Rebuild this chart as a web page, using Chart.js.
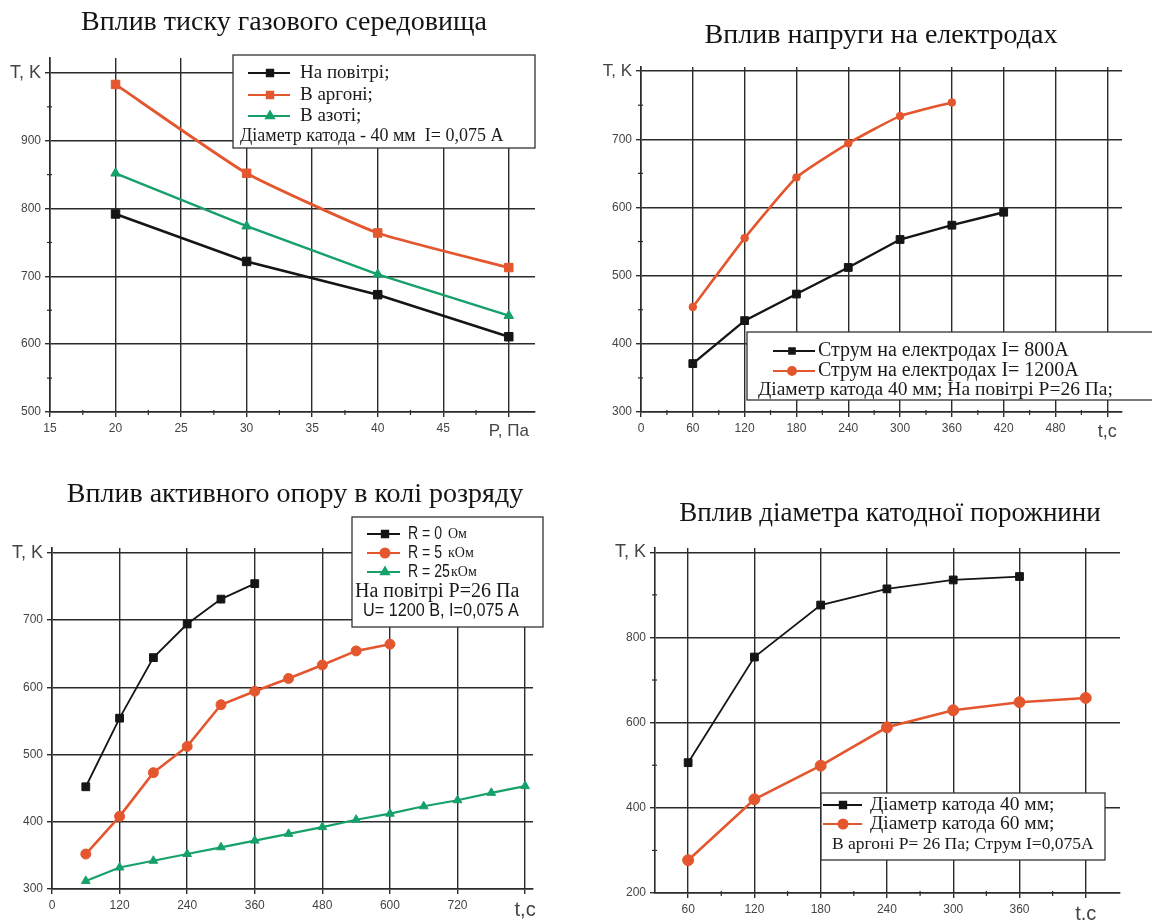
<!DOCTYPE html>
<html lang="uk">
<head>
  <meta charset="UTF-8">
  <title>Температура катода: вплив параметрів розряду</title>
  <script src="https://cdn.jsdelivr.net/npm/chart.js"></script>
  <style>
    body { margin: 0; background: #fff; }
    .page { position: relative; width: 1152px; height: 920px; overflow: hidden; background: #fff; }
    .page canvas { position: absolute; }
    .title { position: absolute; transform: translate(-50%, -50%); white-space: nowrap;
             font-family: 'Liberation Serif', 'Times New Roman', serif; font-size: 28px; color: #141414; }
  </style>
</head>
<body>
  <div class="page">
    <canvas id="pressureChart" width="576" height="460" style="left:0;top:0"></canvas>
    <canvas id="voltageChart" width="576" height="460" style="left:576px;top:0"></canvas>
    <canvas id="resistChart" width="576" height="460" style="left:0;top:460px"></canvas>
    <canvas id="diameterChart" width="576" height="460" style="left:576px;top:460px"></canvas>
    <div class="title" style="left:284px;top:21px">Вплив тиску газового середовища</div>
    <div class="title" style="left:881px;top:34px">Вплив напруги на електродах</div>
    <div class="title" style="left:295px;top:493px">Вплив активного опору в колі розряду</div>
    <div class="title" style="left:890px;top:512px;font-size:27px">Вплив діаметра катодної порожнини</div>
  </div>
  <script>
    // --- тиск газового середовища (P, Па) ---
    const pressure = [20, 30, 40, 50];
    const tempAir = [792, 722, 673, 611];
    const tempArgon = [983, 852, 764, 713];
    const tempNitrogen = [852, 774, 703, 642];
    const pressureTicks = [15, 20, 25, 30, 35, 40, 45, 50];
    const pressureLabels = ['15', '20', '25', '30', '35', '40', '45', 'P, Па'];
    const tempTicks1 = [500, 600, 700, 800, 900, 1000];
    const tempLabels1 = ['500', '600', '700', '800', '900', 'T, K'];

    // --- напруга на електродах (t, c) ---
    const time800 = [60, 120, 180, 240, 300, 360, 420];
    const temp800 = [371, 434, 473, 512, 553, 574, 593];
    const time1200 = [60, 120, 180, 240, 300, 360];
    const temp1200 = [454, 555, 644, 694, 734, 754];
    const timeTicks2 = [0, 60, 120, 180, 240, 300, 360, 420, 480, 540];
    const timeLabels2 = ['0', '60', '120', '180', '240', '300', '360', '420', '480', 't,c'];
    const tempTicks2 = [300, 400, 500, 600, 700, 800];
    const tempLabels2 = ['300', '400', '500', '600', '700', 'T, K'];

    // --- активний опір у колі розряду ---
    const timeR0 = [60, 120, 180, 240, 300, 360];
    const tempR0 = [452, 554, 644, 694, 731, 754];
    const timeR5 = [60, 120, 180, 240, 300, 360, 420, 480, 540, 600];
    const tempR5 = [352, 408, 473, 512, 574, 594, 613, 633, 654, 664];
    const timeR25 = [60, 120, 180, 240, 300, 360, 420, 480, 540, 600, 660, 720, 780, 840];
    const tempR25 = [312, 332, 342, 352, 362, 372, 382, 392, 403, 412, 423, 432, 443, 453];
    const timeTicks3 = [0, 120, 240, 360, 480, 600, 720, 840];
    const timeLabels3 = ['0', '120', '240', '360', '480', '600', '720', 't,c'];
    const tempTicks3 = [300, 400, 500, 600, 700, 800];
    const tempLabels3 = ['300', '400', '500', '600', '700', 'T, K'];

    // --- діаметр катодної порожнини ---
    const timeD40 = [60, 120, 180, 240, 300, 360];
    const tempD40 = [506, 754, 876, 914, 935, 943];
    const timeD60 = [60, 120, 180, 240, 300, 360, 420];
    const tempD60 = [277, 420, 499, 589, 629, 648, 658];
    const timeTicks4 = [60, 120, 180, 240, 300, 360, 420];
    const timeLabels4 = ['60', '120', '180', '240', '300', '360', 't,c'];
    const tempTicks4 = [200, 400, 600, 800, 1000];
    const tempLabels4 = ['200', '400', '600', '800', 'T, K'];

    const BLACK = '#151515';
    const ORANGE = '#e4572e';
    const GREEN = '#16a06a';
    const GRID = '#2b2b2b';
    const SANS = "'Liberation Sans', Arial, sans-serif";
    const SERIF = "'Liberation Serif', 'Times New Roman', serif";

    function points(xs, ys) {
      return xs.map((x, i) => ({ x: x, y: ys[i] }));
    }

    function line(label, xs, ys, color, style, radius, width, tension) {
      return {
        label: label, data: points(xs, ys),
        borderColor: color, backgroundColor: color,
        borderWidth: width, pointStyle: style, pointRadius: radius,
        pointBorderWidth: 1, tension: tension || 0
      };
    }

    // text squeezed horizontally (the source used a condensed face)
    function drawText(ctx, text, x, y, font, squeeze) {
      ctx.font = font;
      ctx.save();
      ctx.translate(x, y);
      ctx.scale(squeeze || 1, 1);
      ctx.fillText(text, 0, 0);
      ctx.restore();
    }

    // boxed legend drawn inside the plot, with extra note lines
    const legendBox = {
      id: 'legendBox',
      beforeDatasetsDraw(chart, args, o) {
        const ctx = chart.ctx;
        ctx.save();
        ctx.fillStyle = '#fff';
        ctx.fillRect(o.x, o.y, o.w, o.h);
        ctx.strokeStyle = '#333';
        ctx.lineWidth = 1.3;
        ctx.strokeRect(o.x, o.y, o.w, o.h);
        ctx.textBaseline = 'middle';
        chart.data.datasets.forEach((ds, i) => {
          const y = o.rows[i];
          ctx.strokeStyle = ds.borderColor;
          ctx.lineWidth = 2;
          ctx.beginPath();
          ctx.moveTo(o.lineX[0], y);
          ctx.lineTo(o.lineX[1], y);
          ctx.stroke();
          ctx.fillStyle = ds.borderColor;
          Chart.helpers.drawPoint(ctx, { pointStyle: ds.pointStyle, radius: o.markR, rotation: 0, borderWidth: 1 }, o.markX, y);
          ctx.fillStyle = '#1a1a1a';
          drawText(ctx, ds.label, o.textX, y, o.font, o.squeeze);
          if (o.units) drawText(ctx, o.units[i], o.unitX[i], y, o.unitFont);
        });
        (o.notes || []).forEach(n => {
          ctx.fillStyle = '#1a1a1a';
          drawText(ctx, n.text, n.x, n.y, n.font, n.squeeze);
        });
        ctx.restore();
      }
    };

    // short marks half way between labelled ticks
    const minorTicks = {
      id: 'minorTicks',
      afterDraw(chart, args, o) {
        if (!o.axes) return;
        const ctx = chart.ctx;
        ctx.save();
        ctx.strokeStyle = GRID;
        ctx.lineWidth = 1.2;
        o.axes.forEach(id => {
          const s = chart.scales[id];
          const vals = s.ticks.map(t => t.value);
          for (let i = 0; i < vals.length - 1; i++) {
            const p = s.getPixelForValue((vals[i] + vals[i + 1]) / 2);
            ctx.beginPath();
            if (s.isHorizontal()) { ctx.moveTo(p, s.top - 2); ctx.lineTo(p, s.top + 3); }
            else { ctx.moveTo(s.right - 3, p); ctx.lineTo(s.right + 2, p); }
            ctx.stroke();
          }
        });
        ctx.restore();
      }
    };

    function axis(min, max, ticks, labels, size, lastSize, fit) {
      return {
        type: 'linear', min: min, max: max,
        afterBuildTicks: s => { s.ticks = ticks.map(v => ({ value: v })); },
        afterFit: fit,
        grid: { color: GRID, lineWidth: 1.4, tickLength: 5, tickColor: GRID },
        border: { color: GRID, width: 1.6 },
        ticks: {
          autoSkip: false, maxRotation: 0, padding: 4, color: '#444',
          callback: (v, i) => labels[i],
          font: c => ({ family: SANS, size: c.index === ticks.length - 1 ? lastSize : size })
        }
      };
    }

    function makeChart(id, datasets, p) {
      return new Chart(document.getElementById(id), {
        type: 'line',
        data: { datasets: datasets },
        plugins: [legendBox, minorTicks],
        options: {
          responsive: false, animation: false, events: [],
          layout: { padding: { left: 0, top: p.top, right: p.right, bottom: 0 } },
          scales: {
            x: axis(p.x[0], p.x[1], p.xTicks, p.xLabels, 12, p.xLast, s => { s.height = p.xHeight; }),
            y: axis(p.y[0], p.y[1], p.yTicks, p.yLabels, 12, p.yLast, s => { s.width = p.yWidth; })
          },
          plugins: {
            legend: { display: false }, tooltip: { enabled: false },
            legendBox: p.legend, minorTicks: { axes: p.minor }
          }
        }
      });
    }

    makeChart('pressureChart', [
      line('На повітрі;', pressure, tempAir, BLACK, 'rect', 6, 2.6),
      line('В аргоні;', pressure, tempArgon, ORANGE, 'rect', 6, 2.8, 0.15),
      line('В азоті;', pressure, tempNitrogen, GREEN, 'triangle', 5.5, 2.4)
    ], {
      x: [15, 52], xTicks: pressureTicks, xLabels: pressureLabels, xLast: 17,
      y: [500, 1022], yTicks: tempTicks1, yLabels: tempLabels1, yLast: 18,
      top: 58, right: 41, yWidth: 50, xHeight: 48, minor: ['x', 'y'],
      legend: {
        x: 233, y: 55, w: 302, h: 93, rows: [73, 95, 116],
        lineX: [248, 290], markX: 270, markR: 4.5, textX: 300, font: '19px ' + SERIF,
        notes: [{ text: 'Діаметр катода - 40 мм  I= 0,075 A', x: 240, y: 136, font: '18px ' + SERIF }]
      }
    });

    makeChart('voltageChart', [
      line('Струм на електродах I= 800A', time800, temp800, BLACK, 'rect', 5.5, 2.4),
      line('Струм на електродах I= 1200A', time1200, temp1200, ORANGE, 'circle', 3.8, 2.6, 0.15)
    ], {
      x: [0, 557], xTicks: timeTicks2, xLabels: timeLabels2, xLast: 18,
      y: [300, 806], yTicks: tempTicks2, yLabels: tempLabels2, yLast: 17,
      top: 67, right: 30, yWidth: 65, xHeight: 48, minor: ['x', 'y'],
      legend: {
        x: 171, y: 332, w: 420, h: 68, rows: [351, 371],
        lineX: [197, 239], markX: 216, markR: 4, textX: 242, font: '20px ' + SERIF,
        notes: [{ text: 'Діаметр катода 40 мм; На повітрі P=26 Па;', x: 182, y: 390, font: '19.5px ' + SERIF }]
      }
    });

    makeChart('resistChart', [
      line('R = 0', timeR0, tempR0, BLACK, 'rect', 5.5, 1.8),
      line('R = 5', timeR5, tempR5, ORANGE, 'circle', 5, 2.6),
      line('R = 25', timeR25, tempR25, GREEN, 'triangle', 5, 2.2)
    ], {
      x: [0, 854], xTicks: timeTicks3, xLabels: timeLabels3, xLast: 20,
      y: [300, 807], yTicks: tempTicks3, yLabels: tempLabels3, yLast: 18,
      top: 88, right: 43, yWidth: 52, xHeight: 31, minor: [],
      legend: {
        x: 352, y: 57, w: 191, h: 110, rows: [74, 93, 112],
        lineX: [367, 400], markX: 385, markR: 4.5, textX: 408, font: '18px ' + SANS, squeeze: 0.78,
        units: ['Ом', 'кОм', 'кОм'], unitX: [448, 448, 451], unitFont: '14px ' + SERIF,
        notes: [
          { text: 'На повітрі P=26 Па', x: 355, y: 132, font: '20px ' + SERIF },
          { text: 'U= 1200 В, I=0,075 А', x: 363, y: 151, font: '18px ' + SANS, squeeze: 0.9 }
        ]
      }
    });

    makeChart('diameterChart', [
      line('Діаметр катода 40 мм;', timeD40, tempD40, BLACK, 'rect', 5.5, 1.8),
      line('Діаметр катода 60 мм;', timeD60, tempD60, ORANGE, 'circle', 5.5, 2.6)
    ], {
      x: [30, 451], xTicks: timeTicks4, xLabels: timeLabels4, xLast: 20,
      y: [200, 1010], yTicks: tempTicks4, yLabels: tempLabels4, yLast: 18,
      top: 88, right: 32, yWidth: 79, xHeight: 27, minor: ['x', 'y'],
      legend: {
        x: 245, y: 333, w: 284, h: 67, rows: [345, 364],
        lineX: [247, 286], markX: 267, markR: 4.5, textX: 294, font: '19.5px ' + SERIF,
        notes: [{ text: 'В аргоні P= 26 Па; Струм I=0,075A', x: 256, y: 384, font: '17.5px ' + SERIF }]
      }
    });
  </script>
</body>
</html>
